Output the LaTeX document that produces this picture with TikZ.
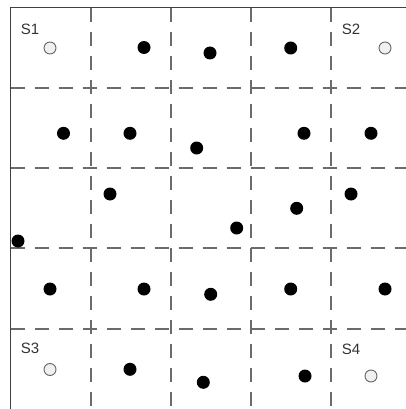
\documentclass[tikz,border=0pt]{standalone}
\usepackage{fontspec}
\setmainfont{Liberation Sans}
\begin{document}
\begin{tikzpicture}[x=1pt,y=-1pt,
  gridline/.style={draw=black!58,line width=1.4pt,dash pattern=on 14pt off 10pt},
  framel/.style={draw=black!75,line width=1.5pt},
  blackdot/.style={circle,fill=black,inner sep=0pt,minimum size=13pt},
  opendot/.style={circle,draw=black!60,fill=black!6,line width=0.9pt,inner sep=0pt,minimum size=12pt},
  lbl/.style={font=\fontsize{15pt}{15pt}\selectfont,text=black!80,inner sep=0pt}]
\useasboundingbox (0,0) rectangle (406,409);
\clip (0,0) rectangle (406,409);
% dashed grid
\foreach \x in {91,171,251,331} \draw[gridline] (\x,8) -- (\x,410);
\foreach \y in {88,168,248,329} \draw[gridline] (10.5,\y) -- (410,\y);
% frame
\draw[framel] (10.5,7.5) rectangle (412,409.5);
% sinks
\node[opendot] (s1) at (50,48) {};
\node[opendot] (s2) at (385,48) {};
\node[opendot] (s3) at (50,369.5) {};
\node[opendot] (s4) at (371,376) {};
\node[lbl] (l1) at (30,29.5) {S1};
\node[lbl] (l2) at (351,29.5) {S2};
\node[lbl] (l3) at (30,348.5) {S3};
\node[lbl] (l4) at (351,349.5) {S4};
% nodes
\foreach \n/\p in {a/{(144,47.5)},b/{(210,53)},c/{(290.7,48)},
  d/{(63.5,133.3)},e/{(130,133.3)},f/{(196.7,148)},g/{(304,133.3)},h/{(371,133.3)},
  i/{(110,194)},j/{(296.7,208.3)},k/{(236.7,228)},l/{(351,194)},m/{(18,241)},
  n/{(50,289)},o/{(144,289)},p/{(210.7,294.3)},q/{(290.7,289)},r/{(385,289)},
  s/{(130,369.3)},t/{(203.3,382.3)},u/{(305,376)}}
  \node[blackdot] (\n) at \p {};
\end{tikzpicture}
\end{document}
